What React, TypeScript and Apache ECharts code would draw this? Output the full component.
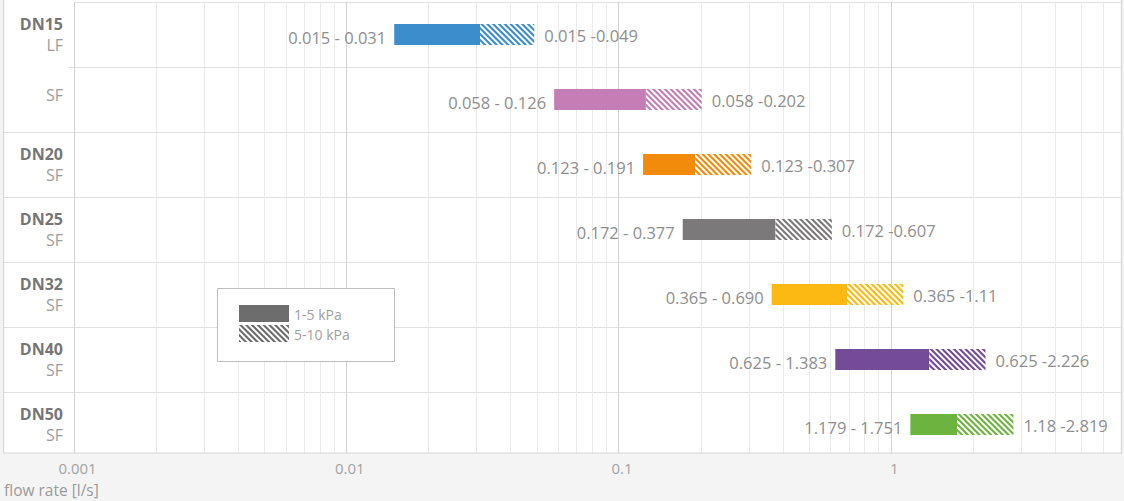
import React, { useEffect, useRef } from 'react';
import * as echarts from 'echarts';

// ---- data ----
const categories = ['DN15 LF', 'DN15 SF', 'DN20 SF', 'DN25 SF', 'DN32 SF', 'DN40 SF', 'DN50 SF'];
const sizeLabels = ['DN15', '', 'DN20', 'DN25', 'DN32', 'DN40', 'DN50'];
const typeLabels = ['LF', 'SF', 'SF', 'SF', 'SF', 'SF', 'SF'];
const minFlow = [0.015, 0.058, 0.123, 0.172, 0.365, 0.625, 1.179];
const flowAt5kPa = [0.031, 0.126, 0.191, 0.377, 0.69, 1.383, 1.751];
const flowAt10kPa = [0.049, 0.202, 0.307, 0.607, 1.11, 2.226, 2.819];
const rangeLabels5 = ['0.015 - 0.031', '0.058 - 0.126', '0.123 - 0.191', '0.172 - 0.377', '0.365 - 0.690', '0.625 - 1.383', '1.179 - 1.751'];
const rangeLabels10 = ['0.015 -0.049', '0.058 -0.202', '0.123 -0.307', '0.172 -0.607', '0.365 -1.11', '0.625 -2.226', '1.18 -2.819'];
const barColors = ['#3c8dcc', '#c47db5', '#f28b0c', '#7b797a', '#fdb913', '#744b97', '#6db33f'];
const decadeTicks = [0.001, 0.01, 0.1, 1];
const minorMultipliers = [2, 3, 4, 5, 6, 7, 8, 9];
const legendLabels = ['1-5 kPa', '5-10 kPa'];
const axisTitle = 'flow rate [l/s]';
const X_MIN = 0.001;
const X_MAX = 7;

// ---- layout/style constants ----
const FONT = "'Open Sans', sans-serif";
const GRID_TOP = 2;
const ROW_H = 65;
const GRID_LEFT = 74;
const GRID_RIGHT = 3;
const BAR_H = 21;
const LEGEND_GREY = '#6d6d6d';

const minorValues = decadeTicks
  .flatMap((d) => minorMultipliers.map((m) => +(d * m).toPrecision(3)))
  .filter((v) => v < X_MAX);

function interX(a: number[], b: number[], x0: number) {
  const t = (x0 - a[0]) / (b[0] - a[0]);
  return [x0, a[1] + t * (b[1] - a[1])];
}
function clipEdge(pts: number[][], x0: number, keepGreater: boolean) {
  const out: number[][] = [];
  const ins = (p: number[]) => (keepGreater ? p[0] >= x0 : p[0] <= x0);
  for (let i = 0; i < pts.length; i++) {
    const cur = pts[i];
    const prev = pts[(i + pts.length - 1) % pts.length];
    const ci = ins(cur);
    const pi = ins(prev);
    if (ci) {
      if (!pi) out.push(interX(prev, cur, x0));
      out.push(cur);
    } else if (pi) {
      out.push(interX(prev, cur, x0));
    }
  }
  return out;
}
function hatch(x: number, y: number, w: number, h: number, color: string) {
  const period = 5.8;
  const sw = 3.0;
  const out: any[] = [];
  const c0 = x - Math.ceil((h + sw) / period) * period;
  for (let c = c0; c < x + w; c += period) {
    let poly = [
      [c, y],
      [c + sw, y],
      [c + sw + h, y + h],
      [c + h, y + h],
    ];
    poly = clipEdge(poly, x, true);
    if (poly.length < 3) continue;
    poly = clipEdge(poly, x + w, false);
    if (poly.length < 3) continue;
    out.push({ type: 'polygon', shape: { points: poly }, style: { fill: color } });
  }
  return out;
}

export default function App() {
  const ref = useRef<HTMLDivElement>(null);
  useEffect(() => {
    if (!ref.current) return;
    const chart = echarts.init(ref.current, undefined, { renderer: 'svg' });

    const barData = categories.map((c, i) => [i, minFlow[i], flowAt5kPa[i], flowAt10kPa[i]]);
    const minorData = minorValues.map((v) => [v, 0]);

    const leftColLines: any[] = [];
    for (let k = 1; k < categories.length; k++) {
      const yy = GRID_TOP + ROW_H * k + 0.5;
      leftColLines.push({
        type: 'line',
        z: 5,
        shape: { x1: k === 1 ? 68 : 3, y1: yy, x2: GRID_LEFT, y2: yy },
        style: { stroke: '#e0e0e0', lineWidth: 1 },
      });
    }

    const lx = 217;
    const ly = 288;
    const legendEls: any[] = [
      { type: 'rect', z: 50, shape: { x: lx + 0.5, y: ly + 0.5, width: 177, height: 73 }, style: { fill: '#fff', stroke: '#bdbdbd', lineWidth: 1 } },
      { type: 'rect', z: 51, shape: { x: lx + 22, y: ly + 17, width: 50, height: 17 }, style: { fill: LEGEND_GREY } },
      ...hatch(lx + 22, ly + 37, 50, 17, LEGEND_GREY).map((e) => ({ ...e, z: 51 })),
      { type: 'text', z: 51, x: lx + 77, y: ly + 26, style: { text: legendLabels[0], fill: '#a0a0a0', fontSize: 14, fontFamily: FONT, verticalAlign: 'middle', align: 'left' } },
      { type: 'text', z: 51, x: lx + 77, y: ly + 46, style: { text: legendLabels[1], fill: '#a0a0a0', fontSize: 14, fontFamily: FONT, verticalAlign: 'middle', align: 'left' } },
    ];

    const option: any = {
      animation: false,
      backgroundColor: 'transparent',
      textStyle: { fontFamily: FONT },
      title: {
        text: axisTitle,
        left: 4,
        top: 482,
        padding: 0,
        textStyle: { fontSize: 15.5, fontWeight: 'normal', color: '#9a9a9a', fontFamily: FONT },
      },
      grid: {
        left: GRID_LEFT,
        right: GRID_RIGHT,
        top: GRID_TOP,
        height: ROW_H * categories.length,
        containLabel: false,
      },
      xAxis: {
        type: 'log',
        logBase: 10,
        min: X_MIN,
        max: X_MAX,
        axisLine: { show: false },
        axisTick: { show: false },
        axisLabel: {
          color: '#a3a3a3',
          fontSize: 15,
          fontFamily: FONT,
          margin: 3,
          padding: [0, 0, 0, 7],
          showMaxLabel: false,
          formatter: (v: number) => {
            const hit = decadeTicks.find((d) => Math.abs(d - v) / d < 1e-6);
            return hit !== undefined ? String(hit) : '';
          },
        },
        splitLine: { show: true, lineStyle: { color: '#d4d4d4', width: 1 } },
      },
      yAxis: {
        type: 'category',
        data: categories,
        inverse: true,
        axisLine: { show: false },
        axisTick: { show: false },
        splitLine: { show: true, lineStyle: { color: '#e0e0e0', width: 1 } },
        axisLabel: {
          margin: 11,
          align: 'right',
          formatter: (_v: string, i: number) =>
            sizeLabels[i] ? `{b|${sizeLabels[i]}}\n{s|${typeLabels[i]}}` : `{s2|${typeLabels[i]}}`,
          rich: {
            b: { fontSize: 16, fontWeight: 'bold', color: '#767676', lineHeight: 21, fontFamily: FONT, align: 'right' },
            s: { fontSize: 16, color: '#9d9d9d', lineHeight: 21, fontFamily: FONT, align: 'right' },
            s2: { fontSize: 16, color: '#9d9d9d', lineHeight: 21, fontFamily: FONT, align: 'right', padding: [0, 0, 9, 0] },
          },
        },
      },
      graphic: [
        { type: 'rect', z: -100, shape: { x: 3, y: 0, width: 1118, height: 453 }, style: { fill: '#ffffff' } },
        ...leftColLines,
        { type: 'rect', z: 100, shape: { x: 0, y: 453.5, width: 1124, height: 6 }, style: { fill: '#f4f4f4' } },
        { type: 'line', z: 101, shape: { x1: 3, y1: 453, x2: 1122, y2: 453 }, style: { stroke: '#d6d6d6', lineWidth: 1 } },
        { type: 'line', z: 101, shape: { x1: 3.5, y1: 0, x2: 3.5, y2: 453 }, style: { stroke: '#d6d6d6', lineWidth: 1 } },
        { type: 'line', z: 101, shape: { x1: 1121.5, y1: 0, x2: 1121.5, y2: 453 }, style: { stroke: '#dcdcdc', lineWidth: 1.5 } },
        ...legendEls,
      ],
      series: [
        {
          type: 'custom',
          name: 'minor',
          z: 1,
          silent: true,
          data: minorData,
          encode: { x: 0, y: 1 },
          renderItem: (params: any, api: any) => {
            const p = api.coord([api.value(0), 0]);
            const cs = params.coordSys;
            const x = Math.round(p[0]) + 0.5;
            return {
              type: 'line',
              shape: { x1: x, y1: cs.y, x2: x, y2: cs.y + cs.height },
              style: { stroke: '#ebebeb', lineWidth: 1 },
            };
          },
        },
        {
          type: 'custom',
          name: 'flow',
          z: 3,
          data: barData,
          encode: { x: [1, 2, 3], y: 0 },
          renderItem: (params: any, api: any) => {
            const i = params.dataIndex;
            const cat = api.value(0);
            const s = api.coord([api.value(1), cat]);
            const m = api.coord([api.value(2), cat]);
            const e = api.coord([api.value(3), cat]);
            const y = s[1] - BAR_H / 2;
            const color = barColors[i];
            return {
              type: 'group',
              children: [
                { type: 'rect', shape: { x: s[0], y, width: m[0] - s[0], height: BAR_H }, style: { fill: color } },
                { type: 'rect', shape: { x: m[0], y, width: e[0] - m[0], height: BAR_H }, style: { fill: '#ffffff' } },
                ...hatch(m[0], y, e[0] - m[0], BAR_H, color),
                {
                  type: 'text',
                  x: s[0] - 8,
                  y: s[1] + 2.5,
                  style: { text: rangeLabels5[i], align: 'right', verticalAlign: 'middle', fill: '#8e8e8e', fontSize: 16.5, fontFamily: FONT },
                },
                {
                  type: 'text',
                  x: e[0] + 10,
                  y: e[1] + 0.5,
                  style: { text: rangeLabels10[i], align: 'left', verticalAlign: 'middle', fill: '#8e8e8e', fontSize: 16.5, fontFamily: FONT },
                },
              ],
            };
          },
        },
      ],
    };
    chart.setOption(option);
    return () => chart.dispose();
  }, []);
  return (
    <div
      ref={ref}
      style={{ position: 'fixed', left: 0, top: 0, width: 1124, height: 501, background: '#f4f4f4' }}
    />
  );
}
